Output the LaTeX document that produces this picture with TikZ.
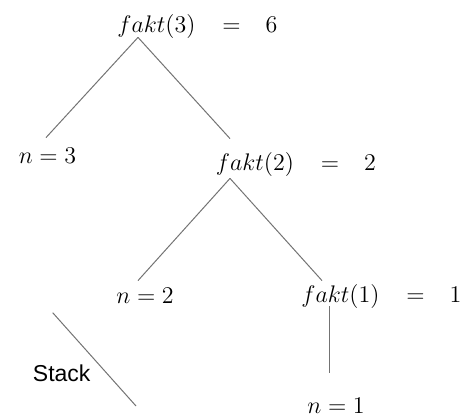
\documentclass[tikz,border=0pt]{standalone}
\usepackage[no-math]{fontspec}
\newfontfamily\stackfont{Liberation Sans}
\usetikzlibrary{positioning}

\begin{document}
\begin{tikzpicture}[
    term/.style={on grid, inner sep=0pt, font=\fontsize{12.5}{15}\selectfont,
                 text height=9.4pt, text depth=3.1pt},
    result/.style={inner sep=0pt, font=\fontsize{12.5}{15}\selectfont,
                   text height=9.4pt, text depth=3.1pt},
    note/.style={on grid, inner sep=0pt, font=\stackfont\fontsize{11.5}{14}\selectfont,
                 text height=9.4pt, text depth=3.1pt},
    branch/.style={draw=black!55, line width=0.5pt}
]
\useasboundingbox (-78.25pt,-195pt) rectangle (156.75pt,13pt);

% Calls
\node[term] (f3) {$fakt(3)$};
\node[term, below left=65.5pt and 54.5pt of f3] (n3) {$n=3$};
\node[term, below right=69pt and 49.25pt of f3] (f2) {$fakt(2)$};
\node[term, below left=66.5pt and 55pt of f2] (n2) {$n=2$};
\node[term, below right=66pt and 42.75pt of f2] (f1) {$fakt(1)$};
\node[term, below left=55.5pt and 2.25pt of f1] (n1) {$n=1$};

% Results
\node[result, right=13pt of f3] (v3) {${=}\quad 6$};
\node[result, right=13pt of f2] (v2) {${=}\quad 2$};
\node[result, right=13pt of f1] (v1) {${=}\quad 1$};

% Stack
\node[note, below left=39.2pt and 41.65pt of n2] (stack) {Stack};

% Branches
\draw[branch] ([shift={(-9.25pt,0.75pt)}]f3.south) -- ([shift={(-0.75pt,3.25pt)}]n3.north);
\draw[branch] ([shift={(-9.25pt,0.75pt)}]f3.south) -- ([shift={(-12.5pt,6.25pt)}]f2.north);
\draw[branch] ([shift={(-12.5pt,-0.75pt)}]f2.south) -- ([shift={(-3.5pt,1.75pt)}]n2.north);
\draw[branch] ([shift={(-12.5pt,-0.75pt)}]f2.south) -- ([shift={(-9.25pt,1.25pt)}]f1.north);
\draw[branch] ([shift={(-5.75pt,1.25pt)}]f1.south) -- ([shift={(-3.5pt,10.75pt)}]n1.north);
\draw[branch] ([shift={(-4.5pt,31.35pt)}]stack.center) -- ([shift={(37.15pt,-15.3pt)}]stack.center);

\end{tikzpicture}
\end{document}
